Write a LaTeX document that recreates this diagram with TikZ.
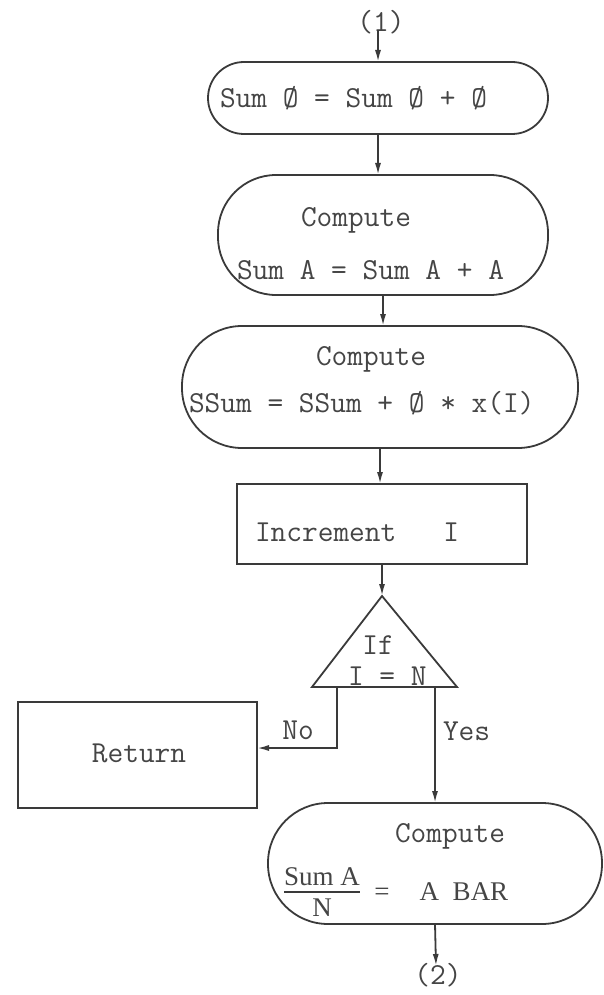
\documentclass[tikz,border=0pt]{standalone}
\usepackage{fontspec}
\newfontfamily\mono{Latin Modern Mono}
\newfontfamily\serif{Liberation Serif}
\usetikzlibrary{arrows.meta}
\definecolor{ink}{HTML}{3A3A3A}
\definecolor{txt}{HTML}{454545}
\begin{document}
\begin{tikzpicture}[x=1pt,y=-1pt,
  every node/.style={inner sep=0pt, outer sep=0pt, text=txt, font=\mono\fontsize{30.5}{34}\selectfont},
  shp/.style={draw=ink, line width=1.8pt, rectangle},
  term/.style={shp, rounded corners=#1},
  arr/.style={draw=ink, line width=1.8pt, -{Latex[length=12pt,width=6pt]}},
  ln/.style={draw=ink, line width=1.8pt},
  sf/.style={font=\serif\fontsize{27}{30}\selectfont}]
\useasboundingbox (0,0) rectangle (603,995);

% shapes
\node[term=36, minimum width=340pt, minimum height=72pt] (b1) at (378,98) {};
\node[term=58, minimum width=330pt, minimum height=120pt] (b2) at (383,235) {};
\node[term=60, minimum width=396pt, minimum height=122pt] (b3) at (380,387) {};
\node[shp, minimum width=290pt, minimum height=80pt] (b4) at (382,524) {};
\coordinate (tt) at (382,596);
\coordinate (tl) at (312,687);
\coordinate (tr) at (457,687);
\coordinate (tno) at (337,687);
\coordinate (tyes) at (435,687);
\draw[ln, line join=miter] (tt) -- (tr) -- (tl) -- cycle;
\node[shp, minimum width=239pt, minimum height=106pt] (ret) at (137.5,755) {};
\node[term=60, minimum width=334pt, minimum height=121pt] (b5) at (435,863.5) {};

% texts
\node (t1) at (381,22) {(1)};
\node[anchor=base west] (s1) at (220,108) {Sum Ø = Sum Ø + Ø};
\node[anchor=base] (c2t) at (356,226) {Compute};
\node[anchor=base west] (s2) at (237,279) {Sum A = Sum A + A};
\node[anchor=base] (c3t) at (371,365) {Compute};
\node[anchor=base west] (s3) at (189,412) {SSum = SSum + Ø * x(I)};
\node[anchor=base west] (s4) at (255,541) {Increment\ \ \ I};
\node[anchor=base] (if) at (378,654) {If};
\node[anchor=base west] (ifc) at (348,685) {I = N};
\node[anchor=base] (no) at (298,739) {No};
\node[anchor=base west] (yes) at (443,740) {Yes};
\node[anchor=base] (rt) at (139,762) {Return};
\node[anchor=base] (c5t) at (450,842) {Compute};
\node[sf, anchor=base] (fnum) at (322,885) {Sum A};
\node[sf, anchor=base] (fden) at (322,916) {N};
\draw[ln, line width=2pt] (fnum.south west |- 0,892) -- (fnum.south east |- 0,892);
\node[sf, anchor=base] (eq) at (382,900) {=};
\node[sf, anchor=base] (abar) at (464,900) {A\ \ BAR};
\node (t2) at (438,975) {(2)};
\coordinate (c1) at (378,30);
\coordinate (c2) at (436,966);

% connectors
\draw[arr] (c1) -- (b1.north);
\draw[arr] (b1.south) -- (b1.south |- b2.north);
\draw[arr] (b2.south) -- (b2.south |- b3.north);
\draw[arr] (b3.south) -- (b3.south |- b4.north);
\draw[arr] (b4.south) -- (tt);
\draw[arr] (tno) |- ([yshift=7pt]ret.east);
\draw[arr] (tyes) -- (tyes |- b5.north);
\draw[arr] (b5.south) -- (c2);
\end{tikzpicture}
\end{document}
